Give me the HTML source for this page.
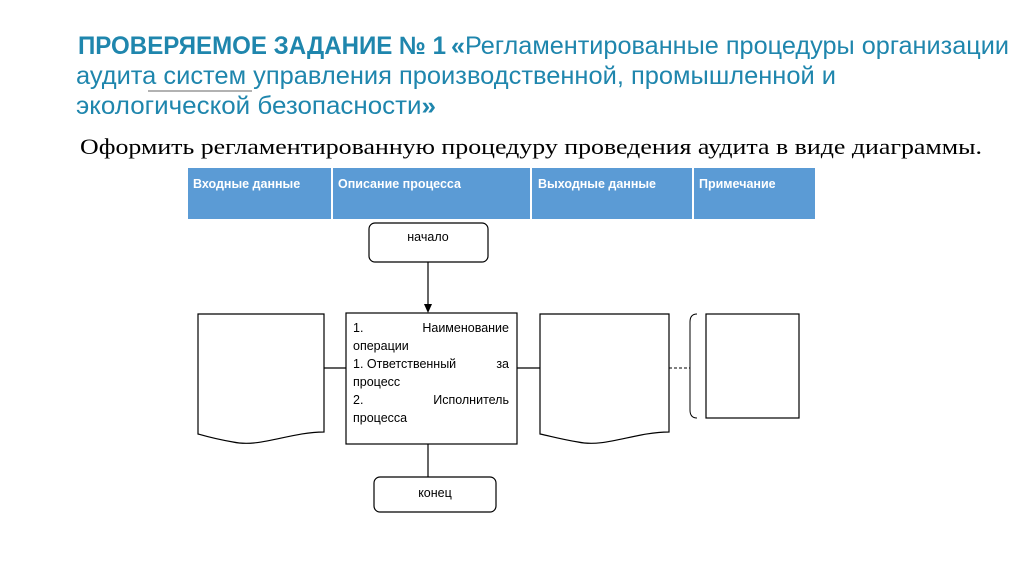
<!DOCTYPE html>
<html><head><meta charset="utf-8"><style>
html,body{margin:0;padding:0;background:#fff}
svg{display:block}
</style></head><body>
<svg width="1024" height="574" xmlns="http://www.w3.org/2000/svg">
<rect width="1024" height="574" fill="#fff"/>
<g fill="#1f86ad" font-family="'Liberation Sans', sans-serif">
<text x="78" y="54" font-size="25" font-weight="bold" textLength="368" lengthAdjust="spacingAndGlyphs">ПРОВЕРЯЕМОЕ ЗАДАНИЕ № 1</text>
<text x="451" y="54" font-size="25" textLength="558" lengthAdjust="spacingAndGlyphs"><tspan font-weight="bold">«</tspan>Регламентированные процедуры организации</text>
<text x="76" y="84" font-size="25" textLength="760" lengthAdjust="spacingAndGlyphs">аудита систем управления производственной, промышленной и</text>
<text x="76" y="114" font-size="25" textLength="360" lengthAdjust="spacingAndGlyphs">экологической безопасности<tspan font-weight="bold">»</tspan></text>
</g>
<line x1="148" y1="91" x2="252" y2="91" stroke="#999" stroke-width="1.5"/>
<text x="80" y="154" font-size="22" font-family="'Liberation Serif', serif" fill="#000" textLength="902" lengthAdjust="spacingAndGlyphs">Оформить регламентированную процедуру проведения аудита  в виде диаграммы.</text>

<rect x="188" y="168" width="627" height="51" fill="#5b9bd5"/>
<g stroke="#fff" stroke-width="2"><line x1="332" y1="168" x2="332" y2="219"/><line x1="531" y1="168" x2="531" y2="219"/><line x1="693" y1="168" x2="693" y2="219"/></g>
<g fill="#fff" font-family="'Liberation Sans', sans-serif" font-size="12.5" font-weight="bold">
<text x="193" y="188">Входные данные</text>
<text x="338" y="188">Описание процесса</text>
<text x="538" y="188">Выходные данные</text>
<text x="699" y="188">Примечание</text>
</g>

<g fill="#fff" stroke="#000" stroke-width="1.2">
<rect x="369" y="223" width="119" height="39" rx="6"/>
<rect x="374" y="477" width="122" height="35" rx="6"/>
<rect x="346" y="313" width="171" height="131"/>
<path d="M198 314 H324 V432 C290 432 260 448 233 442 C215 439 205 436 198 434 Z"/>
<path d="M540 314 H669 V432 C635 432 605 448 578 442 C560 439 550 436 540 434 Z"/>
<rect x="706" y="314" width="93" height="104"/>
</g>
<path d="M697 314 C692 314 690 317 690 322 V410 C690 415 692 418 697 418" fill="none" stroke="#000" stroke-width="1"/>
<g stroke="#000" stroke-width="1.2">
<line x1="428" y1="262" x2="428" y2="305"/>
<line x1="324" y1="368" x2="346" y2="368"/>
<line x1="517" y1="368" x2="540" y2="368"/>
<line x1="428" y1="444" x2="428" y2="477"/>
<line x1="669" y1="368" x2="690" y2="368" stroke-dasharray="3,2" stroke-width="1"/>
</g>
<polygon points="424,304 432,304 428,313" fill="#000"/>
<g font-family="'Liberation Sans', sans-serif" font-size="12.5" fill="#000">
<text x="428" y="241" text-anchor="middle">начало</text>
<text x="435" y="497" text-anchor="middle">конец</text>
<text x="353" y="332">1.</text><text x="509" y="332" text-anchor="end">Наименование</text>
<text x="353" y="350">операции</text>
<text x="353" y="368">1.  Ответственный</text><text x="509" y="368" text-anchor="end">за</text>
<text x="353" y="386">процесс</text>
<text x="353" y="404">2.</text><text x="509" y="404" text-anchor="end">Исполнитель</text>
<text x="353" y="422">процесса</text>
</g>
</svg>
</body></html>
